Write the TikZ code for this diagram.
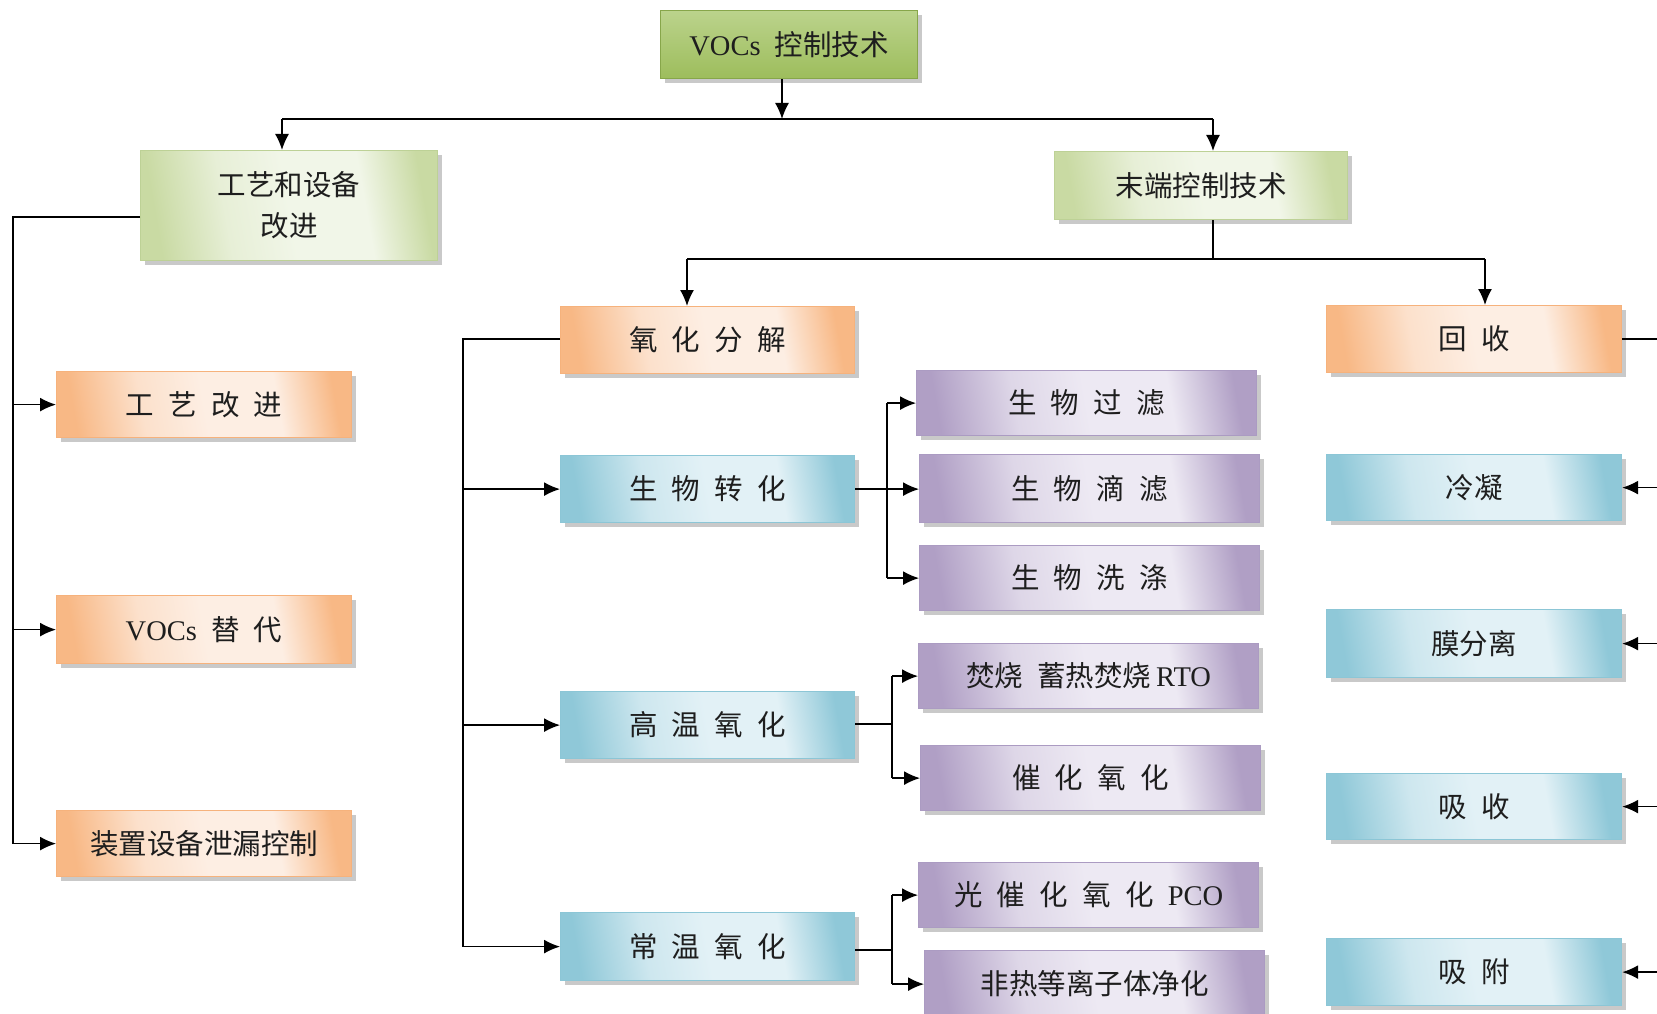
\documentclass[tikz,border=0pt]{standalone}
\usepackage{fontspec}
\setmainfont{Noto Sans CJK SC}
\newfontfamily\lat{Liberation Serif}
\usetikzlibrary{arrows.meta,shadows}
\definecolor{Or1}{HTML}{F8B885}
\definecolor{Or2}{HTML}{FDEEE3}
\definecolor{OrB}{HTML}{F6B27C}
\definecolor{Bl1}{HTML}{8FC8D8}
\definecolor{Bl2}{HTML}{E2F1F6}
\definecolor{BlB}{HTML}{8CC6D6}
\definecolor{Pu1}{HTML}{B09FC5}
\definecolor{Pu2}{HTML}{EDE9F3}
\definecolor{PuB}{HTML}{AB9BC2}
\definecolor{Gl1}{HTML}{C9DAA3}
\definecolor{Gl2}{HTML}{F1F6E8}
\definecolor{GlB}{HTML}{BDD196}
\definecolor{Gd1}{HTML}{9DBD5C}
\definecolor{Gd2}{HTML}{BBD38C}
\definecolor{GdB}{HTML}{87A64A}
\definecolor{Txt}{HTML}{1E1E1E}
\newcommand\mkshade[3]{%
  \pgfdeclarehorizontalshading{#1}{100bp}{color(0bp)=(#2); color(25bp)=(#2);
    color(38bp)=(#3!75!#2); color(50bp)=(#3); color(64bp)=(#3); color(75bp)=(#2); color(100bp)=(#2)}}
\mkshade{oshade}{Or1}{Or2}
\mkshade{bshade}{Bl1}{Bl2}
\mkshade{pshade}{Pu1}{Pu2}
\mkshade{gshade}{Gl1}{Gl2}
\pgfdeclareverticalshading{dgshade}{100bp}{color(0bp)=(Gd1); color(25bp)=(Gd1); color(75bp)=(Gd2); color(100bp)=(Gd2)}
\newcommand\gp{\hspace{0.5em}}
\tikzset{
  x=1pt,y=-1pt,
  box/.style={rectangle, inner sep=0pt, line width=1.2pt, text=Txt, anchor=north west,
    font=\fontsize{28.5}{34}\selectfont, align=center,
    drop shadow={shadow xshift=4pt, shadow yshift=-4pt, fill=black!30, opacity=0.7}},
  obox/.style={box, draw=OrB, shading=oshade, shading angle=10},
  bbox/.style={box, draw=BlB, shading=bshade, shading angle=10},
  pbox/.style={box, draw=PuB, shading=pshade, shading angle=10},
  lgbox/.style={box, draw=GlB, shading=gshade, shading angle=10},
  dgbox/.style={box, draw=GdB, shading=dgshade},
  conn/.style={line width=1.5pt, black},
  arr/.style={conn, -{Latex[length=16pt,width=14pt]}},
}
\newcommand\bx[7]{\node[#1, minimum width=#4-#3, minimum height=#6-#5] (#2) at (#3,#5) {#7};}
\begin{document}
\begin{tikzpicture}
\useasboundingbox (0,0) rectangle (1657,1014);
\clip (0,0) rectangle (1657,1014);
% boxes
\bx{dgbox}{top}{660}{917}{10}{78}{{\lat VOCs}\gp 控制技术}
\bx{lgbox}{pg}{140}{437}{150}{260}{工艺和设备\\[7pt]改进}
\bx{lgbox}{md}{1054}{1347}{151}{219}{末端控制技术}
\bx{obox}{oxd}{560}{854}{306}{373}{氧\gp 化\gp 分\gp 解}
\bx{obox}{rec}{1326}{1621}{305}{372}{回\gp 收}
\bx{obox}{gy}{56}{351}{371}{437}{工\gp 艺\gp 改\gp 进}
\bx{obox}{vs}{56}{351}{595}{663}{{\lat VOCs}\gp 替\gp 代}
\bx{obox}{zz}{56}{351}{810}{876}{装置设备泄漏控制}
\bx{bbox}{bio}{560}{854}{455}{522}{生\gp 物\gp 转\gp 化}
\bx{bbox}{gw}{560}{854}{691}{758}{高\gp 温\gp 氧\gp 化}
\bx{bbox}{cw}{560}{854}{912}{980}{常\gp 温\gp 氧\gp 化}
\bx{pbox}{p1}{916}{1256}{370}{435}{生\gp 物\gp 过\gp 滤}
\bx{pbox}{p2}{919}{1259}{454}{522}{生\gp 物\gp 滴\gp 滤}
\bx{pbox}{p3}{919}{1259}{545}{610}{生\gp 物\gp 洗\gp 涤}
\bx{pbox}{p4}{918}{1258}{643}{708}{焚烧\gp 蓄热焚烧\,{\lat RTO}}
\bx{pbox}{p5}{920}{1260}{745}{810}{催\gp 化\gp 氧\gp 化}
\bx{pbox}{p6}{918}{1258}{862}{927}{光\gp 催\gp 化\gp 氧\gp 化\gp {\lat PCO}}
\bx{pbox}{p7}{924}{1264}{950}{1017}{非热等离子体净化}
\bx{bbox}{b1}{1326}{1621}{454}{520}{冷凝}
\bx{bbox}{b2}{1326}{1621}{609}{677}{膜分离}
\bx{bbox}{b3}{1326}{1621}{773}{839}{吸\gp 收}
\bx{bbox}{b4}{1326}{1621}{938}{1005}{吸\gp 附}
% junction coordinates
\coordinate (j0) at (782,119);
\coordinate (jl) at (282,119);
\coordinate (jr) at (1213,119);
\coordinate (j1) at (1213,259);
\coordinate (j1l) at (687,259);
\coordinate (j1r) at (1485,259);
\coordinate (lx) at (13,217);
\coordinate (mx) at (463,339);
\coordinate (bx1) at (887,488);
\coordinate (bx2) at (892,724);
\coordinate (bx3) at (892,950);
\coordinate (rx) at (1657,339);
% connectors
\draw[arr] (top.south -| j0) -- (j0);
\draw[conn] (jl) -- (jr);
\draw[arr] (jl) -- (jl |- pg.north);
\draw[arr] (jr) -- (jr |- md.north);
\draw[conn] (md.south -| j1) -- (j1);
\draw[conn] (j1l) -- (j1r);
\draw[arr] (j1l) -- (j1l |- oxd.north);
\draw[arr] (j1r) -- (j1r |- rec.north);
% left branch
\draw[conn] (pg.west |- lx) -- (lx) -- (lx |- zz.west);
\draw[arr] (lx |- gy.west) -- (gy.west);
\draw[arr] (lx |- vs.west) -- (vs.west);
\draw[arr] (lx |- zz.west) -- (zz.west);
% middle branch
\draw[conn] (oxd.west |- mx) -- (mx) -- (mx |- cw.west);
\draw[arr] (mx |- bio.west) -- (bio.west);
\draw[arr] (mx |- gw.west) -- (gw.west);
\draw[arr] (mx |- cw.west) -- (cw.west);
% bio branch
\draw[arr] (bio.east) -- (bio.east -| p2.west);
\draw[conn] (bx1 |- p1.west) -- (bx1 |- p3.west);
\draw[arr] (bx1 |- p1.west) -- (p1.west);
\draw[arr] (bx1 |- p3.west) -- (p3.west);
% high temperature branch
\draw[conn] (gw.east |- bx2) -- (bx2);
\draw[conn] (bx2 |- p4.west) -- (bx2 |- p5.west);
\draw[arr] (bx2 |- p4.west) -- (p4.west);
\draw[arr] (bx2 |- p5.west) -- (p5.west);
% normal temperature branch
\draw[conn] (cw.east |- bx3) -- (bx3);
\draw[conn] (bx3 |- p6.west) -- (bx3 |- p7.west);
\draw[arr] (bx3 |- p6.west) -- (p6.west);
\draw[arr] (bx3 |- p7.west) -- (p7.west);
% recovery branch
\draw[conn] (rec.east) -- (rec.east -| rx);
\draw[arr] (rx |- b1.east) -- (b1.east);
\draw[arr] (rx |- b2.east) -- (b2.east);
\draw[arr] (rx |- b3.east) -- (b3.east);
\draw[arr] (rx |- b4.east) -- (b4.east);
\end{tikzpicture}
\end{document}
